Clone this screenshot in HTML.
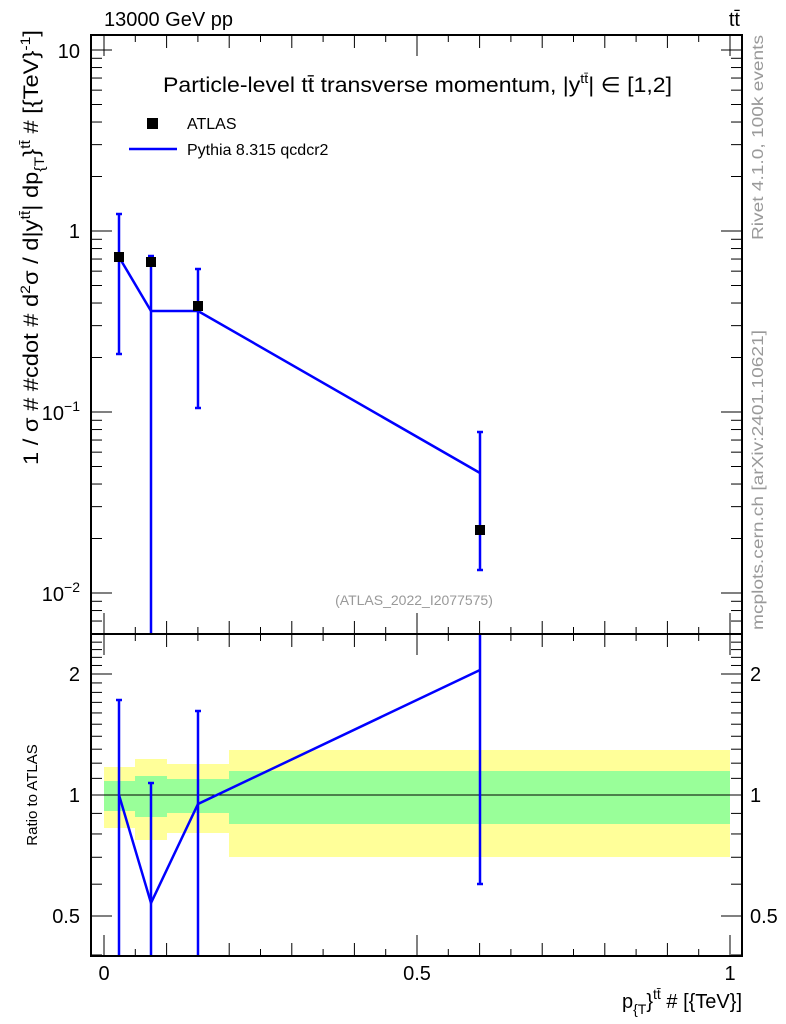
<!DOCTYPE html>
<html><head><meta charset="utf-8"><style>
body{margin:0;background:#fff;}
svg{display:block;font-family:"Liberation Sans",sans-serif;}
</style></head><body>
<svg id="s" width="786" height="1024" viewBox="0 0 786 1024" xmlns="http://www.w3.org/2000/svg">
<g stroke="none">
<rect x="104" y="767" width="31" height="61" fill="#ffff99"/>
<rect x="135" y="759" width="32" height="81" fill="#ffff99"/>
<rect x="167" y="764" width="62" height="69" fill="#ffff99"/>
<rect x="229" y="750" width="501" height="107" fill="#ffff99"/>
<rect x="104" y="781" width="31" height="30" fill="#99ff99"/>
<rect x="135" y="776" width="32" height="41" fill="#99ff99"/>
<rect x="167" y="779" width="62" height="34" fill="#99ff99"/>
<rect x="229" y="771" width="501" height="53" fill="#99ff99"/>
</g>
<line x1="91" y1="795" x2="742" y2="795" stroke="#000" stroke-width="1"/>
<g id="ticks" stroke="#000" stroke-width="1"></g>
<rect x="91" y="35" width="651" height="599" fill="none" stroke="#000" stroke-width="2"/>
<rect x="91" y="634" width="651" height="322" fill="none" stroke="#000" stroke-width="2"/>
<g stroke="#0000ff" stroke-width="2.5" fill="none">
<polyline points="119,257 151,311 198,311 480,473"/>
<line x1="119" y1="214" x2="119" y2="354"/><line x1="116" y1="214" x2="122" y2="214"/><line x1="116" y1="354" x2="122" y2="354"/>
<line x1="151" y1="256" x2="151" y2="633"/><line x1="148" y1="256" x2="154" y2="256"/>
<line x1="198" y1="269" x2="198" y2="408"/><line x1="195" y1="269" x2="201" y2="269"/><line x1="195" y1="408" x2="201" y2="408"/>
<line x1="480" y1="432" x2="480" y2="570"/><line x1="477" y1="432" x2="483" y2="432"/><line x1="477" y1="570" x2="483" y2="570"/>
</g>
<g fill="#000">
<rect x="114" y="252" width="10" height="10"/>
<rect x="146" y="257" width="10" height="10"/>
<rect x="193" y="301" width="10" height="10"/>
<rect x="475" y="525" width="10" height="10"/>
</g>
<g stroke="#0000ff" stroke-width="2.5" fill="none">
<polyline points="119,795 151,903 198,804 480,670"/>
<line x1="119" y1="700" x2="119" y2="955"/><line x1="116" y1="700" x2="122" y2="700"/>
<line x1="151" y1="783" x2="151" y2="955"/><line x1="148" y1="783" x2="154" y2="783"/>
<line x1="198" y1="711" x2="198" y2="955"/><line x1="195" y1="711" x2="201" y2="711"/>
<line x1="480" y1="635" x2="480" y2="884"/><line x1="477" y1="884" x2="483" y2="884"/>
</g>
<rect x="147" y="118" width="11" height="11" fill="#000"/>
<text x="187" y="129" font-size="16">ATLAS</text>
<line x1="129" y1="149" x2="177" y2="149" stroke="#0000ff" stroke-width="2.5"/>
<text x="187" y="155" font-size="16">Pythia 8.315 qcdcr2</text>
<text x="104" y="26" font-size="20">13000 GeV pp</text>
<text x="740" y="26" font-size="20" text-anchor="end">tt̄</text>
<text x="163" y="92" font-size="21" textLength="509" lengthAdjust="spacingAndGlyphs">Particle-level tt̄ transverse momentum, |y<tspan font-size="13" dy="-9">tt̄</tspan><tspan dy="9">| ∈ [1,2]</tspan></text>
<text x="414" y="605" font-size="14" fill="#999" text-anchor="middle">(ATLAS_2022_I2077575)</text>
<g font-size="20">
<text x="80" y="58" text-anchor="end">10</text>
<text x="80" y="238" text-anchor="end">1</text>
<text x="80" y="420" text-anchor="end">10<tspan font-size="14" dy="-9">−1</tspan></text>
<text x="80" y="601" text-anchor="end">10<tspan font-size="14" dy="-9">−2</tspan></text>
<text x="80" y="681" text-anchor="end">2</text>
<text x="80" y="802" text-anchor="end">1</text>
<text x="80" y="923" text-anchor="end">0.5</text>
<text x="750" y="681">2</text>
<text x="750" y="802">1</text>
<text x="750" y="923">0.5</text>
<text x="104" y="980" text-anchor="middle">0</text>
<text x="417" y="980" text-anchor="middle">0.5</text>
<text x="730" y="980" text-anchor="middle">1</text>
</g>
<text x="742" y="1008" font-size="20" text-anchor="end">p<tspan font-size="14" dy="6">{T</tspan><tspan dy="-6">}</tspan><tspan font-size="14" dy="-9">tt̄</tspan><tspan dy="9"> # [{TeV}]</tspan></text>
<text transform="translate(38,465) rotate(-90)" font-size="21" textLength="435" lengthAdjust="spacingAndGlyphs">1 / σ # #cdot # d<tspan font-size="14" dy="-8">2</tspan><tspan dy="8">σ / d|y</tspan><tspan font-size="14" dy="-8">tt̄</tspan><tspan dy="8">| dp</tspan><tspan font-size="14" dy="6">{T</tspan><tspan dy="-6">}</tspan><tspan font-size="14" dy="-8">tt̄</tspan><tspan dy="8"> # [{TeV}</tspan><tspan font-size="14" dy="-8">-1</tspan><tspan dy="8">]</tspan></text>
<text transform="translate(37,795) rotate(-90)" font-size="15" text-anchor="middle">Ratio to ATLAS</text>
<text transform="translate(763,240) rotate(-90)" font-size="16" fill="#999" textLength="205" lengthAdjust="spacingAndGlyphs">Rivet 4.1.0,  100k events</text>
<text transform="translate(763,630) rotate(-90)" font-size="16" fill="#999" textLength="300" lengthAdjust="spacingAndGlyphs">mcplots.cern.ch [arXiv:2401.10621]</text>
</svg>
<script>
var g=document.getElementById('ticks'),s='';
function L(x1,y1,x2,y2){s+='<line x1="'+x1+'" y1="'+y1+'" x2="'+x2+'" y2="'+y2+'"/>';}
for(var d=-3;d<=1;d++){for(var m=1;m<=9;m++){var v=Math.log10(m)+d;var y=231-181*v;if(y<36||y>633)continue;var len=(m==1)?20:10;L(92,y,92+len,y);L(741,y,741-len,y);}}
var rv=[0.4,0.5,0.6,0.7,0.8,0.9,1,1.1,1.2,1.3,1.4,1.5,1.6,1.7,1.8,1.9,2,2.1,2.2,2.3,2.4];
rv.forEach(function(v){var y=795-402*Math.log10(v);if(y<635||y>955)return;var len=(v==0.5||v==1||v==2)?20:10;L(92,y,92+len,y);L(741,y,741-len,y);});
for(var i=0;i<=20;i++){var x=104+626*i/20;if(x>741)continue;var len=(i%10==0)?20:(i%2==0?12:6);
L(x,633,x,633-len);L(x,36,x,36+len);L(x,955,x,955-len);L(x,635,x,635+len);}
g.innerHTML=s;
</script>
</body></html>
